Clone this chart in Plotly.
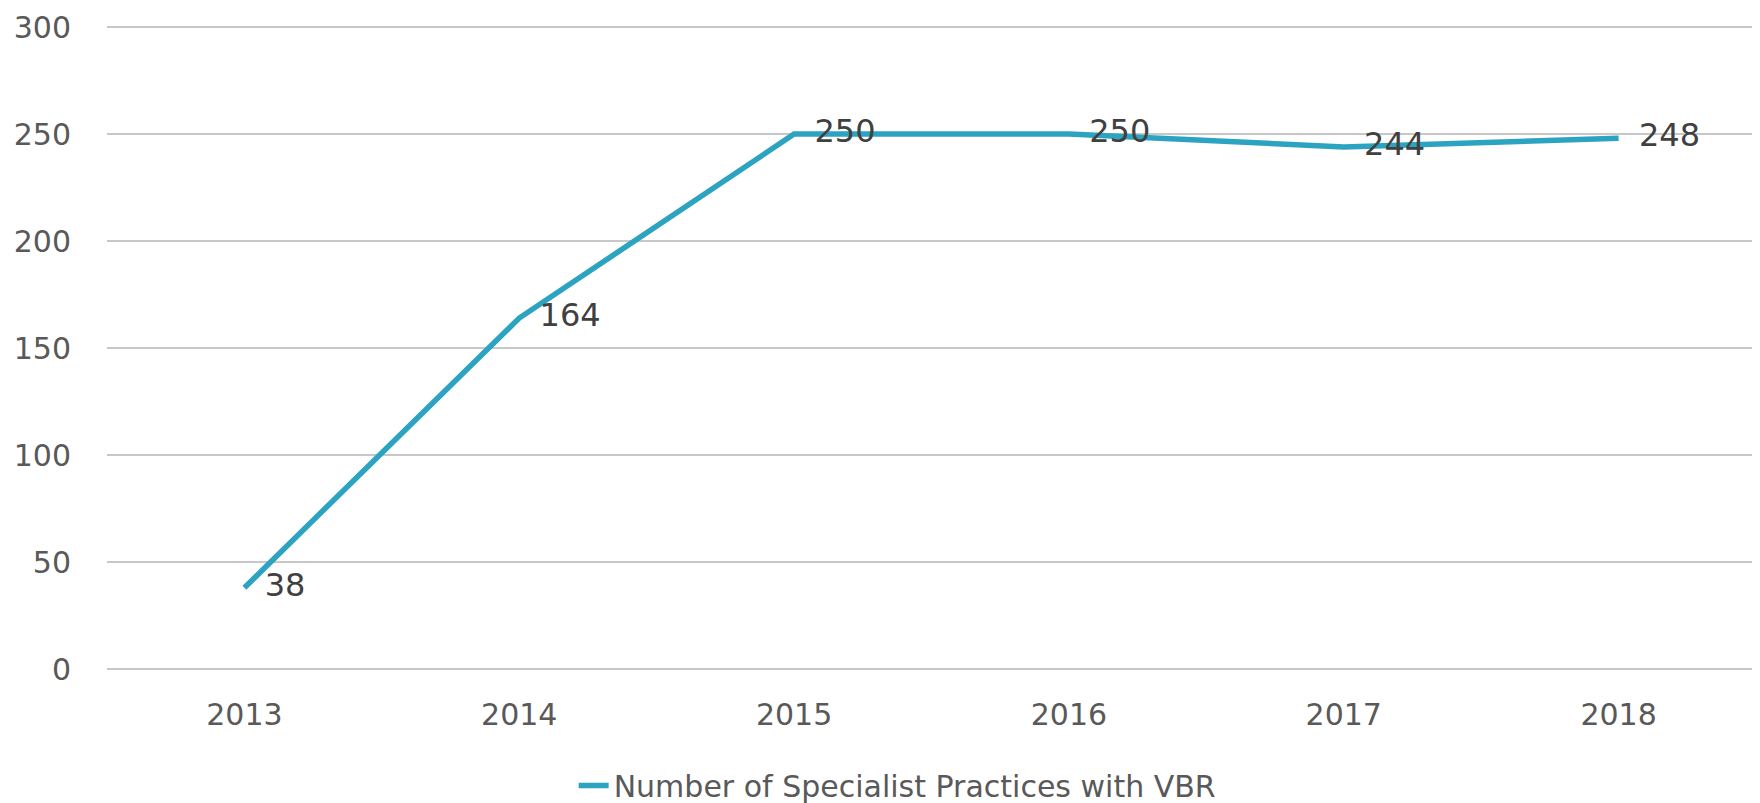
import plotly.graph_objects as go

years = ["2013", "2014", "2015", "2016", "2017", "2018"]
practices = [38, 164, 250, 250, 244, 248]
series_name = "Number of Specialist Practices with VBR"
y_ticks = [0, 50, 100, 150, 200, 250, 300]

fig = go.Figure()
fig.add_trace(go.Scatter(
    x=years, y=practices, name=series_name,
    mode="lines+text",
    line=dict(color="#2CA3C1", width=5.5),
    text=[str(v) for v in practices],
    textposition="middle right",
    texttemplate="  %{text}",
    textfont=dict(family="DejaVu Sans", size=32, color="#404040"),
    cliponaxis=False,
))

fig.update_layout(
    width=1752, height=795,
    margin=dict(l=99, r=4, t=18, b=134, autoexpand=False),
    paper_bgcolor="white", plot_bgcolor="white",
    showlegend=True,
    legend=dict(orientation="h", x=0.283, xanchor="left", y=-0.181, yanchor="middle",
                font=dict(family="DejaVu Sans", size=30, color="#595959"),
                itemwidth=30),
    xaxis=dict(type="category", range=[-0.5, 5.5], showgrid=False, showline=False, zeroline=False,
               automargin=False,
               tickfont=dict(family="DejaVu Sans", size=30, color="#595959"),
               ticks="outside", ticklen=19, tickcolor="rgba(0,0,0,0)"),
    yaxis=dict(range=[0, 300.5], tickvals=y_ticks, showgrid=True, gridcolor="#C8C8C8", gridwidth=2,
               automargin=False,
               zeroline=True, zerolinecolor="#C8C8C8", zerolinewidth=2, showline=False,
               tickfont=dict(family="DejaVu Sans", size=30, color="#595959"),
               ticks="outside", ticklen=29, tickcolor="rgba(0,0,0,0)"),
)

fig.write_html("out.html")
